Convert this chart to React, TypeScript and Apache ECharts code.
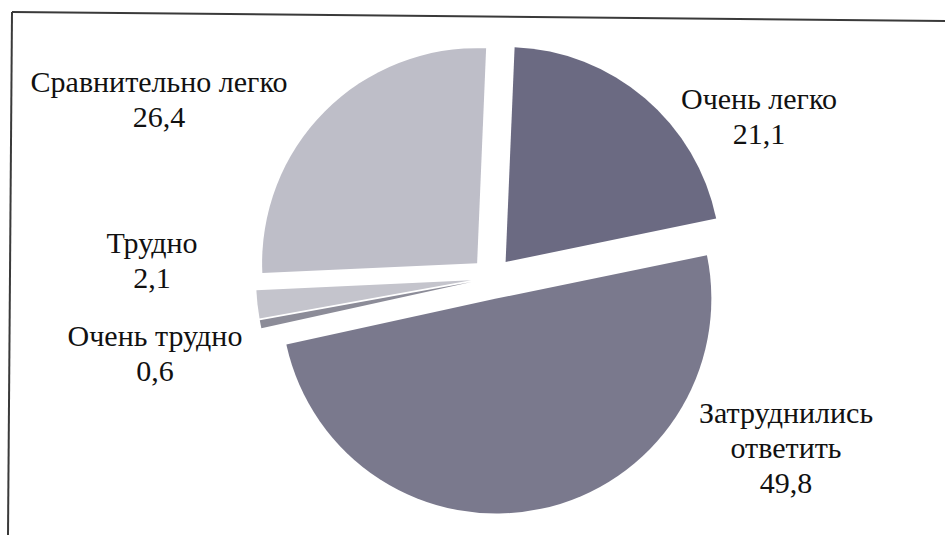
import React, { useEffect, useRef } from "react";
import * as echarts from "echarts";

const categories = ["Очень легко", "Затруднились ответить", "Очень трудно", "Трудно", "Сравнительно легко"];
const values = [21.1, 49.8, 0.6, 2.1, 26.4];
const colors = ["#6b6a82", "#7a798d", "#8c8c98", "#c4c4cc", "#bebec8"];
const labelNames = ["Очень легко", "Затруднились\nответить", "Очень трудно", "Трудно", "Сравнительно легко"];
const labelPos: [number, number][] = [
  [759, 116],
  [786, 447],
  [155, 353],
  [152, 260],
  [159, 99],
];

export default function App() {
  const ref = useRef<HTMLDivElement>(null);
  useEffect(() => {
    if (!ref.current) return;
    const chart = echarts.init(ref.current, undefined, { renderer: "svg" });
    const labelTitles = categories.map((_, i) => ({
      text: labelNames[i] + "\n" + String(values[i]).replace(".", ","),
      left: labelPos[i][0],
      top: labelPos[i][1],
      padding: 0,
      textAlign: "center",
      textVerticalAlign: "middle",
      textStyle: {
        color: "#111111",
        fontFamily: "Liberation Serif",
        fontSize: 30,
        fontWeight: "normal",
        lineHeight: 35,
      },
    }));
    chart.setOption({
      animation: false,
      backgroundColor: "#ffffff",
      title: labelTitles,
      graphic: [
        { type: "line", shape: { x1: 12, y1: 12, x2: 945, y2: 21 }, style: { stroke: "#3a3a3a", lineWidth: 2 } },
        { type: "line", shape: { x1: 12, y1: 12, x2: 8, y2: 535 }, style: { stroke: "#3a3a3a", lineWidth: 2 } },
      ],
      series: [
        {
          type: "pie",
          center: [492, 278],
          radius: 215,
          startAngle: 87.6,
          clockwise: true,
          selectedMode: "multiple",
          selectedOffset: 21,
          emphasis: { disabled: true },
          label: { show: false },
          labelLine: { show: false },
          data: categories.map((name, i) => ({
            name,
            value: values[i],
            selected: true,
            itemStyle: { color: colors[i], borderWidth: 0 },
            select: { itemStyle: { color: colors[i], borderWidth: 0 } },
          })),
        },
      ],
    });
    return () => chart.dispose();
  }, []);
  return (
    <div
      ref={ref}
      style={{ position: "absolute", left: 0, top: 0, width: 945, height: 535 }}
    />
  );
}
